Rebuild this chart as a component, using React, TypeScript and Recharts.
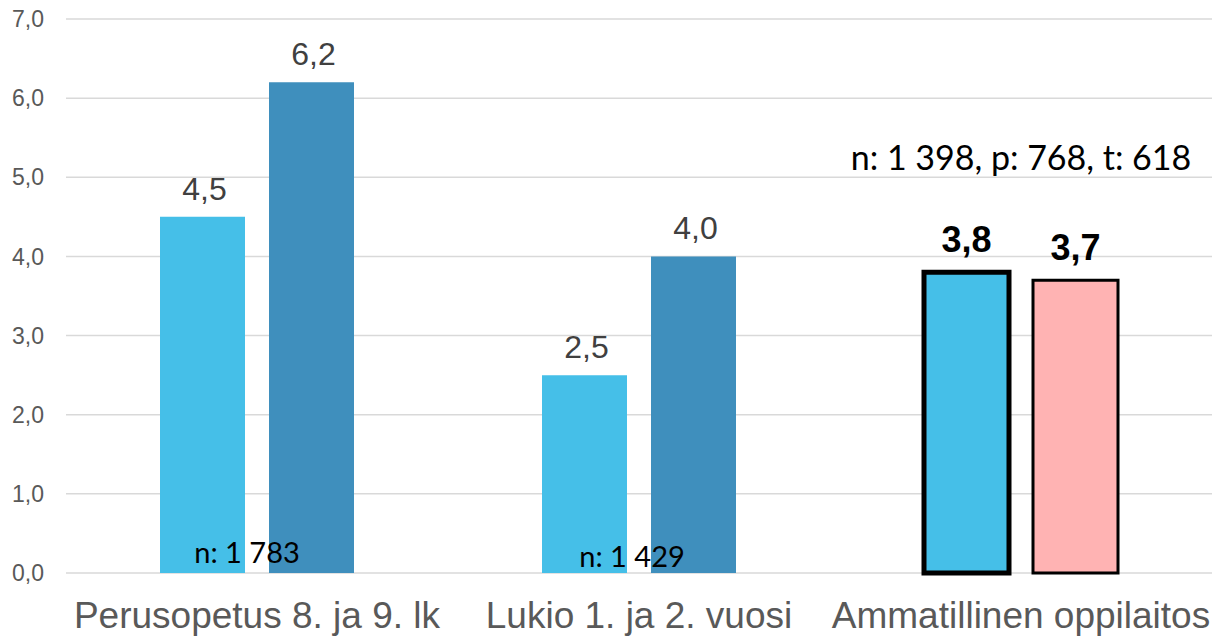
import React from "react"
import {
  BarChart,
  Bar,
  XAxis,
  YAxis,
  CartesianGrid,
  Cell,
  LabelList,
  ReferenceDot,
} from "recharts"

const categories = ["Perusopetus 8. ja 9. lk", "Lukio 1. ja 2. vuosi", "Ammatillinen oppilaitos"]
const seriesA = [4.5, 2.5, 3.8]
const seriesB = [6.2, 4.0, 3.7]
const notes = ["n: 1 783", "n: 1 429", "n: 1 398, p: 768, t: 618"]
const yTicks = [0, 1, 2, 3, 4, 5, 6, 7]

const data = categories.map((name, i) => ({ name, a: seriesA[i], b: seriesB[i] }))

const fmt = (v: number) => v.toFixed(1).replace(".", ",")
const AXIS_FONT = "'Liberation Sans', Arial, sans-serif"

const colorsA = ["#45BFE8", "#45BFE8", "#45BFE8"]
const colorsB = ["#3F8FBD", "#3F8FBD", "#FFB3B3"]

// note anchors (value units) and small horizontal nudges
const noteY = [0.13, 0.07, 5.09]
const noteDx = [-10, -7, 0]
const noteSize = [29, 29, 34]

const valueLabel = (props: any) => {
  const { x, y, width, value, index } = props
  const bold = index === 2
  return (
    <text
      x={x + width / 2 + (bold ? 0 : 2)}
      y={y - (bold ? 20 : 17)}
      textAnchor="middle"
      fontFamily={AXIS_FONT}
      fontSize={bold ? 36 : 32}
      fontWeight={bold ? 700 : 400}
      fill={bold ? "#000" : "#404040"}
    >
      {fmt(value)}
    </text>
  )
}

const noteLabel = (i: number) => (props: any) => {
  const vb = props.viewBox || {}
  return (
    <text
      x={vb.x + noteDx[i]}
      y={vb.y}
      textAnchor="middle"
      fontFamily="Lato, 'Open Sans', sans-serif"
      fontSize={noteSize[i]}
      fill="#000"
    >
      {notes[i]}
    </text>
  )
}

export default function App() {
  return (
    <div style={{ position: "absolute", left: 0, top: 0, background: "#fff" }}>
      <BarChart
        width={1212}
        height={638}
        data={data}
        margin={{ top: 19, right: 0, bottom: 0, left: 0 }}
        barSize={85}
        barGap={24}
      >
        <CartesianGrid vertical={false} stroke="#D9D9D9" strokeWidth={1.5} />
        <XAxis
          dataKey="name"
          height={65}
          interval={0}
          axisLine={false}
          tickLine={false}
          tickSize={0}
          tickMargin={29}
          tick={{ fill: "#595959", fontSize: 37, fontFamily: AXIS_FONT }}
        />
        <YAxis
          width={66}
          domain={[0, 7]}
          ticks={yTicks}
          axisLine={false}
          tickLine={false}
          tickSize={0}
          tickMargin={22}
          tickFormatter={fmt}
          tick={{ fill: "#595959", fontSize: 23, fontFamily: AXIS_FONT }}
        />
        <Bar dataKey="a" isAnimationActive={false}>
          {data.map((d, i) => (
            <Cell
              key={d.name}
              fill={colorsA[i]}
              stroke={i === 2 ? "#000" : "none"}
              strokeWidth={i === 2 ? 5 : 0}
            />
          ))}
          <LabelList dataKey="a" content={valueLabel} />
        </Bar>
        <Bar dataKey="b" isAnimationActive={false}>
          {data.map((d, i) => (
            <Cell
              key={d.name}
              fill={colorsB[i]}
              stroke={i === 2 ? "#000" : "none"}
              strokeWidth={i === 2 ? 3 : 0}
            />
          ))}
          <LabelList dataKey="b" content={valueLabel} />
        </Bar>
        {categories.map((c, i) => (
          <ReferenceDot
            key={c}
            x={c}
            y={noteY[i]}
            r={0}
            fill="none"
            stroke="none"
            ifOverflow="visible"
            label={noteLabel(i)}
          />
        ))}
      </BarChart>
    </div>
  )
}
